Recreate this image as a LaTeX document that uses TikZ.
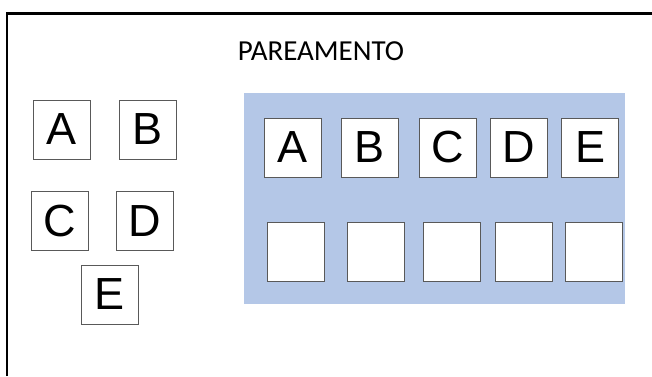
\documentclass[tikz,border=0pt]{standalone}
\usepackage{fontspec}
\usepackage{tikz}
\usepackage{xcolor}
\newfontfamily\boxfont{Liberation Sans}
\newfontfamily\titlefont{Carlito}
\definecolor{panelblue}{HTML}{B4C7E7}
\tikzset{
	letterbox/.style={draw=black!65, fill=white, line width=0.8pt, minimum width=57pt, minimum height=59pt, inner sep=0pt, font=\boxfont\fontsize{45}{45}\selectfont},
}

\begin{document}
\begin{tikzpicture}[x=1pt,y=-1pt]
				\useasboundingbox (0,0) rectangle (652,376);
				\draw[line width=2.2pt] (7,376)--(7,13.5)--(652,13.5);
				\node[font=\titlefont\fontsize{29}{29}\selectfont] (title) at (321,51){PAREAMENTO};
				
				% loose letters
				\node[letterbox] (la) at (61.5,129.5){A};
				\node[letterbox] (lb) at (147.5,129.5){B};
				\node[letterbox] (lc) at (59.5,220.5){C};
				\node[letterbox] (ld) at (144.5,221){D};
				\node[letterbox] (le) at (109.5,294.5){E};
				
				\fill[panelblue] (244,93) rectangle (625,304);
				
				\foreach \x/\l in {293/A,370/B,447.5/C,518.5/D,590/E}
				{
					\node[letterbox] (top\l) at (\x,147.5){\l};
				};
				\foreach \x/\n in {295.5/1,375.5/2,451.5/3,524/4,593.5/5}
				{
					\node[letterbox] (slot\n) at (\x,251.5){};
				};
			\end{tikzpicture}
\end{document}
